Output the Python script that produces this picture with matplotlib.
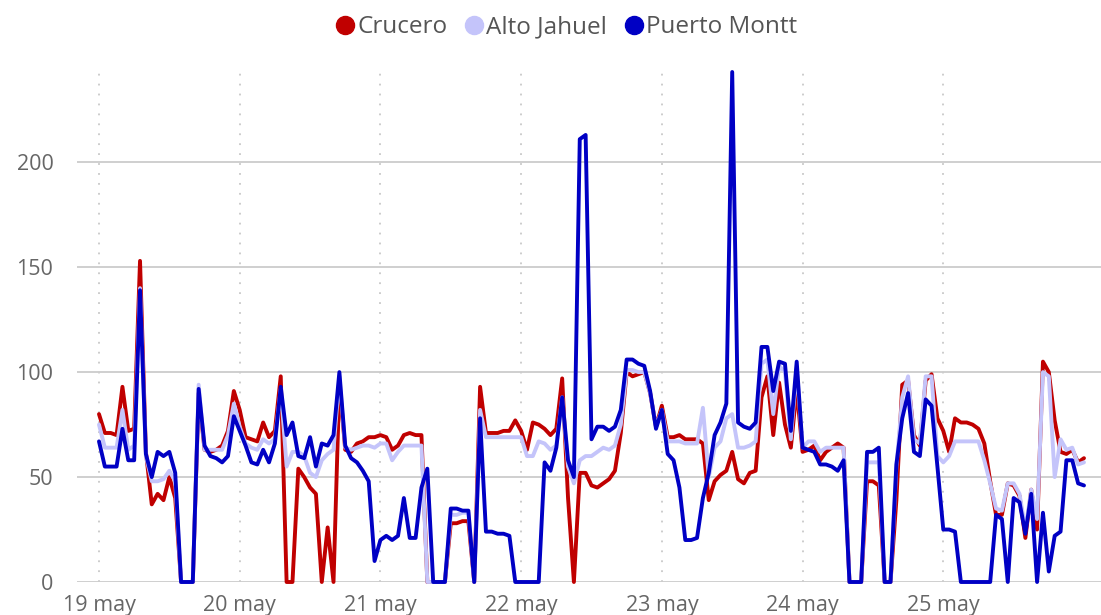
import matplotlib
matplotlib.use("Agg")
import matplotlib.pyplot as plt
from matplotlib.lines import Line2D

# hourly values, 19 may 00:00 .. 26 may 00:00
crucero = [
    80, 71, 71, 70, 93, 72, 73, 153, 62, 37, 42, 39, 50, 40, 0, 0, 0, 90, 63, 62, 63, 65, 72, 91,
    82, 69, 68, 67, 76, 69, 72, 98, 0, 0, 54, 50, 45, 42, 0, 26, 0, 95, 63, 62, 66, 67, 69, 69,
    70, 69, 63, 65, 70, 71, 70, 70, 0, 0, 0, 0, 28, 28, 29, 29, 0, 93, 71, 71, 71, 72, 72, 77,
    72, 63, 76, 75, 73, 70, 73, 97, 40, 0, 52, 52, 46, 45, 47, 49, 53, 71, 100, 98, 99, 100, 90, 74,
    84, 69, 69, 70, 68, 68, 68, 66, 39, 48, 51, 53, 62, 49, 47, 52, 53, 88, 98, 70, 95, 75, 64, 92,
    62, 63, 65, 58, 62, 64, 66, 64, 0, 0, 0, 48, 48, 46, 0, 0, 39, 94, 96, 70, 65, 96, 99, 78,
    72, 62, 78, 76, 76, 75, 73, 66, 48, 32, 32, 47, 46, 41, 21, 44, 25, 105, 100, 77, 62, 61, 63, 57, 59,
]
alto_jahuel = [
    75, 64, 64, 64, 82, 63, 65, 140, 60, 48, 48, 49, 53, 48, 0, 0, 0, 94, 63, 63, 63, 63, 70, 85,
    74, 66, 64, 63, 68, 66, 68, 92, 55, 62, 62, 60, 52, 50, 58, 61, 63, 98, 64, 63, 64, 65, 65, 64,
    66, 66, 58, 62, 65, 65, 65, 65, 0, 0, 0, 0, 32, 32, 33, 33, 0, 82, 69, 69, 69, 69, 69, 69,
    69, 60, 60, 67, 66, 63, 65, 88, 55, 47, 58, 60, 60, 62, 64, 63, 65, 75, 101, 101, 100, 100, 90, 74,
    82, 67, 67, 67, 66, 66, 66, 83, 50, 64, 67, 78, 80, 64, 64, 65, 67, 104, 106, 80, 103, 100, 68, 102,
    64, 67, 67, 62, 64, 64, 64, 64, 0, 0, 0, 57, 57, 57, 0, 0, 55, 88, 98, 68, 66, 98, 98, 60,
    57, 60, 67, 67, 67, 67, 67, 58, 47, 35, 34, 47, 47, 42, 25, 44, 30, 100, 98, 50, 68, 63, 64, 56, 57,
]
puerto_montt = [
    67, 55, 55, 55, 73, 58, 58, 139, 61, 50, 62, 60, 62, 52, 0, 0, 0, 92, 65, 60, 59, 57, 60, 79,
    72, 65, 57, 56, 63, 57, 66, 93, 70, 76, 60, 59, 69, 55, 66, 65, 70, 100, 65, 59, 57, 53, 48, 10,
    20, 22, 20, 22, 40, 21, 21, 45, 54, 0, 0, 0, 35, 35, 34, 34, 0, 78, 24, 24, 23, 23, 22, 0,
    0, 0, 0, 0, 57, 53, 64, 88, 58, 50, 211, 213, 68, 74, 74, 72, 74, 82, 106, 106, 104, 103, 91, 73,
    82, 61, 58, 45, 20, 20, 21, 40, 52, 70, 76, 85, 243, 76, 74, 73, 76, 112, 112, 91, 105, 104, 72, 105,
    64, 63, 62, 56, 56, 55, 53, 58, 0, 0, 0, 62, 62, 64, 0, 0, 56, 78, 90, 62, 60, 87, 84, 55,
    25, 25, 24, 0, 0, 0, 0, 0, 0, 32, 30, 0, 40, 38, 23, 42, 0, 33, 5, 22, 24, 58, 58, 47, 46,
]
series = [("Crucero", crucero, "#c00000"),
          ("Alto Jahuel", alto_jahuel, "#c4c4fa"),
          ("Puerto Montt", puerto_montt, "#0000c4")]
day_labels = ["19 may", "20 may", "21 may", "22 may", "23 may", "24 may", "25 may"]

plt.rcParams['font.family'] = ['Open Sans', 'DejaVu Sans']

fig = plt.figure(figsize=(11.01, 6.15), dpi=100)
ax = fig.add_axes([77 / 1101, 1 - 582 / 615, 1 - 77 / 1101, (582 - 72) / 615])

for name, vals, col in series:
    ax.plot(range(len(vals)), vals, color=col, lw=2.8, solid_joinstyle='round',
            solid_capstyle='round', clip_on=False, zorder=3)

ax.set_xlim(-3.75, 170.9)
ax.set_ylim(0, 243)
ax.set_xticks([24 * i for i in range(len(day_labels))])
ax.set_xticklabels(day_labels)
ax.set_yticks([0, 50, 100, 150, 200])
ax.tick_params(length=0, labelsize=15.5, labelcolor="#666666")
ax.tick_params(axis='y', pad=17)
ax.tick_params(axis='x', pad=9)
ax.grid(axis='y', color="#cccccc", lw=1.3)
ax.grid(axis='x', color="#c8c8c8", lw=1.3, linestyle=(0, (1, 4.5)))
for s in ax.spines.values():
    s.set_visible(False)

handles = [Line2D([], [], ls='none', marker='o', ms=13, color=c) for _, _, c in series]
fig.legend(handles, [n for n, _, _ in series], loc='center', bbox_to_anchor=(0.512, 0.956),
           ncol=3, frameon=False, fontsize=17.5, labelcolor="#555555",
           handletextpad=-0.1, columnspacing=0.5, handlelength=1.2)

fig.savefig("out.png", dpi=100)
